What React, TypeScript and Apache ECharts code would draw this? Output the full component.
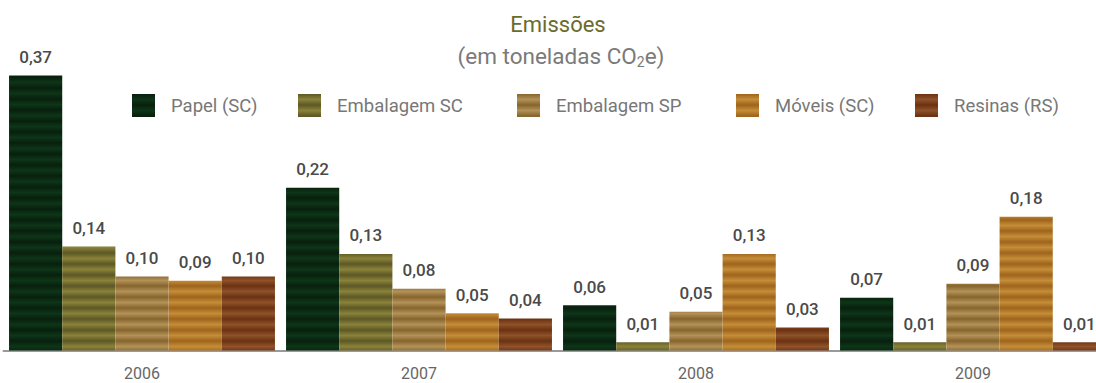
import React, { useEffect, useRef } from "react";
import * as echarts from "echarts";

const years = ["2006", "2007", "2008", "2009"];
const seriesNames = ["Papel (SC)", "Embalagem SC", "Embalagem SP", "Móveis (SC)", "Resinas (RS)"];
const papel = [0.37, 0.219, 0.061, 0.071];
const embalagemSC = [0.14, 0.13, 0.011, 0.011];
const embalagemSP = [0.0996, 0.083, 0.052, 0.09];
const moveis = [0.094, 0.05, 0.13, 0.18];
const resinas = [0.0996, 0.043, 0.031, 0.011];
const seriesValues = [papel, embalagemSC, embalagemSP, moveis, resinas];

const stripeColors: [string, string][] = [
  ["#08200d", "#0d3518"],
  ["#5c5726", "#8a8239"],
  ["#86642d", "#b39258"],
  ["#9e641d", "#c48d37"],
  ["#6a3211", "#8f522a"],
];
const legendLefts = [132, 298, 517, 736, 915];

function stripes(dark: string, light: string) {
  const H = 383;
  const period = 11;
  const stops: { offset: number; color: string }[] = [];
  for (let y = 0; y <= H; y += period) {
    stops.push({ offset: Math.min(1, y / H), color: dark });
    const m = y + period / 2;
    if (m <= H) stops.push({ offset: m / H, color: light });
  }
  return new echarts.graphic.LinearGradient(0, 0, 0, H, stops, true);
}

const FONT = "'Roboto', sans-serif";

export default function App() {
  const ref = useRef<HTMLDivElement>(null);
  useEffect(() => {
    if (!ref.current) return;
    const chart = echarts.init(ref.current, undefined, { renderer: "svg" });
    const option: any = {
      animation: false,
      title: [
        {
          text: "Emissões",
          left: 553,
          top: 8,
          textAlign: "center",
          textStyle: { fontFamily: FONT, fontSize: 22, fontWeight: "normal", color: "#6b6b2b" },
        },
        {
          text: "(em toneladas CO{sub|2}e)",
          left: 556,
          top: 38,
          textAlign: "center",
          textStyle: {
            fontFamily: FONT,
            fontSize: 22.5,
            fontWeight: "normal",
            color: "#7a7a7a",
            rich: {
              sub: { fontFamily: FONT, fontSize: 14, color: "#7a7a7a", padding: [12, 0, 0, 0] },
            },
          },
        },
      ],
      legend: seriesNames.map((n, i) => ({
        data: [n],
        left: legendLefts[i],
        top: 94,
        padding: 0,
        itemWidth: 23,
        itemHeight: 23,
        icon: "rect",
        selectedMode: false,
        textStyle: { fontFamily: FONT, fontSize: 18.5, color: "#777777", padding: [0, 0, 0, 11] },
      })),
      grid: { left: 3.5, right: -15.5, top: 53.3, bottom: 32.5, outerBoundsMode: "none", containLabel: false },
      xAxis: {
        type: "category",
        data: years,
        axisLine: { show: true, lineStyle: { color: "#9a9a9a", width: 2 } },
        axisTick: { show: false },
        axisLabel: { fontFamily: FONT, fontSize: 16, color: "#666666", margin: 15 },
      },
      yAxis: { type: "value", min: 0, max: 0.4, show: false, splitLine: { show: false } },
      series: seriesNames.map((n, i) => ({
        name: n,
        type: "bar",
        data: seriesValues[i],
        barGap: "0%",
        barCategoryGap: "4%",
        itemStyle: { color: stripes(stripeColors[i][0], stripeColors[i][1]) },
        label: {
          show: true,
          position: "top",
          distance: 10,
          fontFamily: FONT,
          fontSize: 17,
          fontWeight: 500,
          color: "#4a4a4a",
          formatter: (p: any) => p.value.toFixed(2).replace(".", ","),
        },
      })),
    };
    chart.setOption(option);
    return () => chart.dispose();
  }, []);
  return (
    <div
      ref={ref}
      style={{ position: "absolute", left: 0, top: 0, width: 1096, height: 383, background: "#ffffff" }}
    />
  );
}
